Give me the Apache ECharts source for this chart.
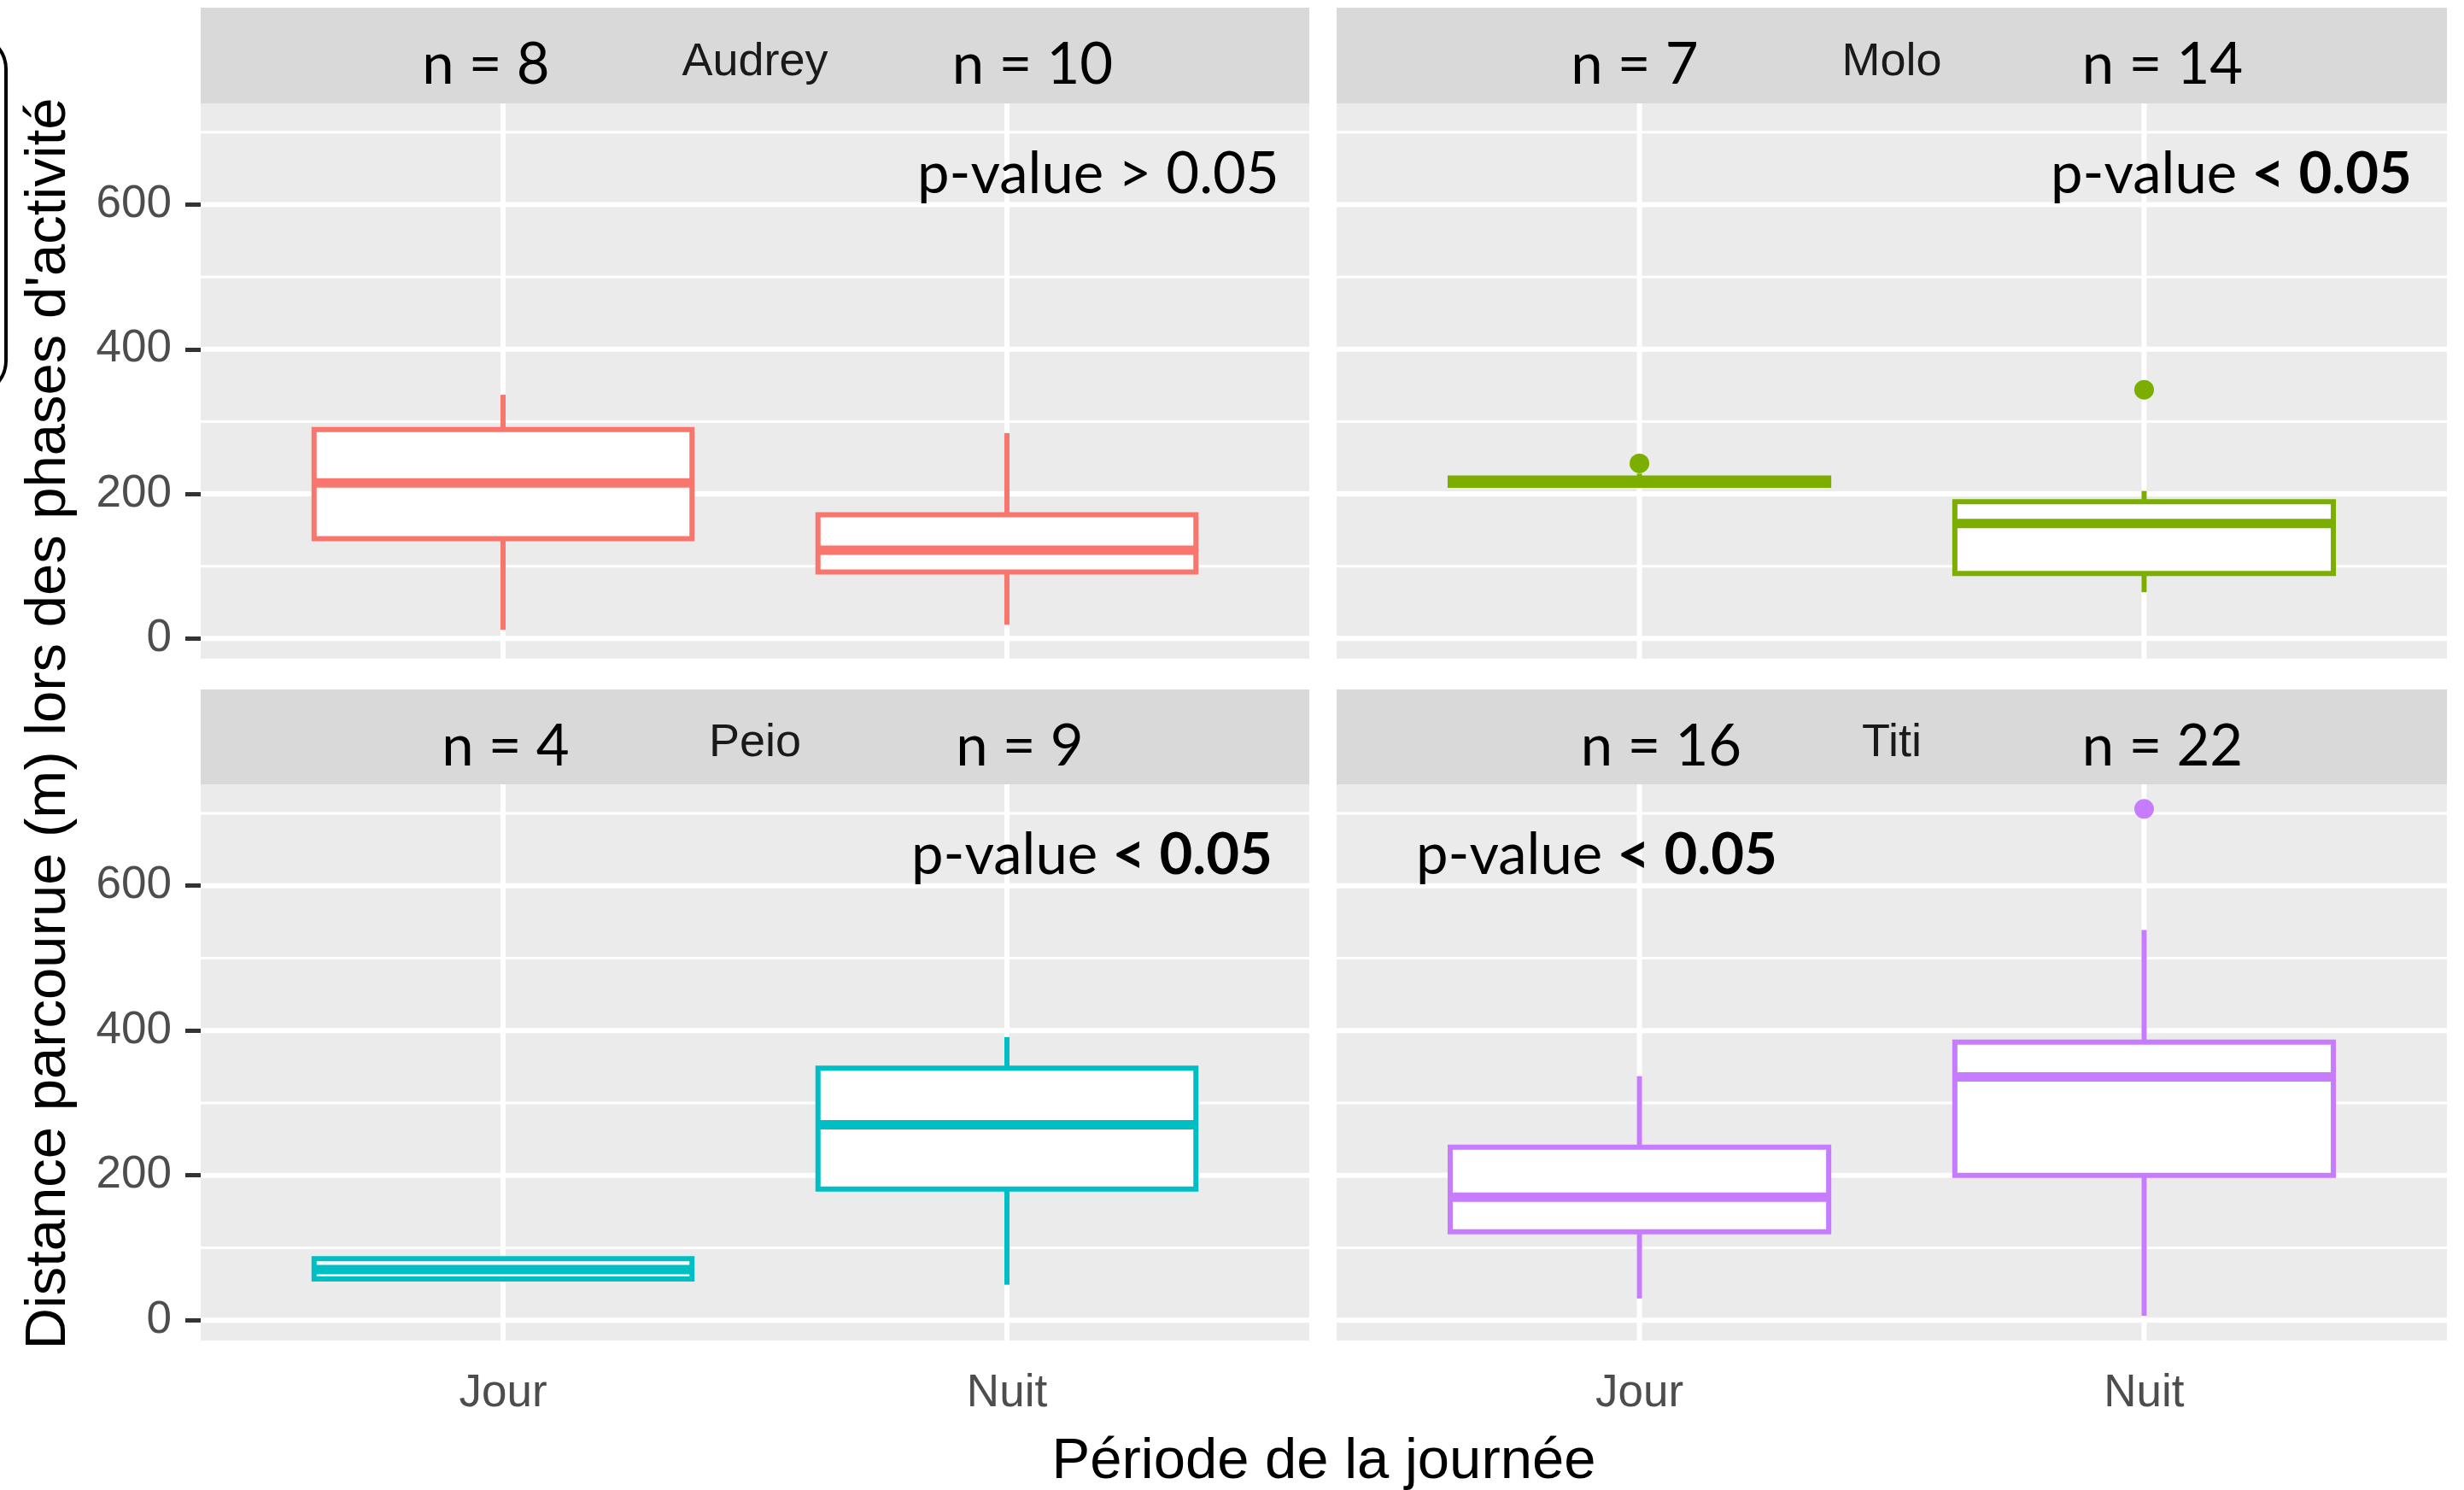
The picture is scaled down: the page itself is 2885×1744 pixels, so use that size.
<!DOCTYPE html>
<html>
<head>
<meta charset="utf-8">
<script src="https://cdn.jsdelivr.net/npm/echarts@6/dist/echarts.min.js"></script>
<style>
  html, body { margin: 0; padding: 0; background: #fff; }
  #chart { width: 2885px; height: 1744px; }
</style>
</head>
<body>
<div id="chart"></div>
<script>
// ─── Données ──────────────────────────────────────────────────────────────────
const periods = ['Jour', 'Nuit']
const animals = ['Audrey', 'Molo', 'Peio', 'Titi']
const colors  = ['#F8766D', '#7CAE00', '#00BFC4', '#C77CFF']

// [min, Q1, médiane, Q3, max] pour Jour puis Nuit
const audreyBox = [[12, 138, 215, 289, 337], [19, 92, 122, 171, 284]]
const moloBox   = [[211, 212, 217, 222, 228], [64, 90, 159, 189, 204]]
const peioBox   = [[57, 57, 70, 85, 85], [49, 181, 270, 348, 391]]
const titiBox   = [[30, 122, 170, 239, 337], [6, 200, 336, 384, 539]]

// valeurs extrêmes : [index période, valeur]
const audreyOut = []
const moloOut   = [[0, 242], [1, 344]]
const peioOut   = []
const titiOut   = [[1, 706]]

const nJour   = [8, 7, 4, 16]
const nNuit   = [10, 14, 9, 22]
const pSign   = ['>', '<', '<', '<']
const pBold   = [false, true, true, true]

const yMajor = [0, 200, 400, 600]
const yMinor = [100, 300, 500, 700]

const boxes    = [audreyBox, moloBox, peioBox, titiBox]
const outliers = [audreyOut, moloOut, peioOut, titiOut]

// ─── Mise en page ─────────────────────────────────────────────────────────────
const cols = [{ left: 235, width: 1298 }, { left: 1565, width: 1300 }]
const rows = [{ strip: 9, top: 121, height: 650 }, { strip: 807, top: 918, height: 651 }]
const nPos = [[569, 1209], [1914, 2532], [592, 1194], [1945, 2532]]
const pPos = [1074, 2401, 1067, 1658]
const AX_FONT = 'Liberation Sans, Arial, sans-serif'
const CAL_FONT = 'Lato, Carlito, Calibri, sans-serif'
const CAL_SIZE = 67

const grids = [], xAxes = [], yAxes = [], series = [], graphics = []

const hLine = (width) => (params, api) => {
  const v  = api.value(0)
  const p1 = api.coord([0.4, v]), p2 = api.coord([2.6, v])
  return { type: 'line', shape: { x1: p1[0], y1: p1[1], x2: p2[0], y2: p2[1] }, style: { stroke: '#fff', lineWidth: width } }
}
const vLine = (width) => (params, api) => {
  const v  = api.value(0)
  const p1 = api.coord([v, -28]), p2 = api.coord([v, 740])
  return { type: 'line', shape: { x1: p1[0], y1: p1[1], x2: p2[0], y2: p2[1] }, style: { stroke: '#fff', lineWidth: width } }
}
const boxItem = (color) => (params, api) => {
  const x  = api.value(0)
  const lo = api.coord([x, api.value(1)])
  const q1 = api.coord([x, api.value(2)])
  const md = api.coord([x, api.value(3)])
  const q3 = api.coord([x, api.value(4)])
  const hi = api.coord([x, api.value(5)])
  const half = api.size([0.375, 0])[0]
  const cx = md[0]
  return {
    type: 'group',
    children: [
      { type: 'line', shape: { x1: cx, y1: hi[1], x2: cx, y2: q3[1] }, style: { stroke: color, lineWidth: 6 } },
      { type: 'line', shape: { x1: cx, y1: q1[1], x2: cx, y2: lo[1] }, style: { stroke: color, lineWidth: 6 } },
      { type: 'rect', shape: { x: cx - half, y: q3[1], width: half * 2, height: q1[1] - q3[1] }, style: { fill: '#fff', stroke: color, lineWidth: 6 } },
      { type: 'line', shape: { x1: cx - half, y1: md[1], x2: cx + half, y2: md[1] }, style: { stroke: color, lineWidth: 11 } },
    ],
  }
}

animals.forEach((name, i) => {
  const c = cols[i % 2], r = rows[Math.floor(i / 2)]
  const showX = r === rows[1], showY = c === cols[0]
  grids.push({ left: c.left, top: r.top, width: c.width, height: r.height, show: true, backgroundColor: '#EBEBEB', borderWidth: 0, outerBoundsMode: 'none', containLabel: false })
  xAxes.push({
    type: 'value', gridIndex: i, min: 0.4, max: 2.6,
    axisLine: { show: false }, splitLine: { show: false },
    axisTick: { show: showX, customValues: [1, 2], length: 18, lineStyle: { color: '#333333', width: 5 } },
    axisLabel: { show: showX, customValues: [1, 2], formatter: v => periods[Math.round(v) - 1], fontSize: 53, fontFamily: AX_FONT, color: '#4D4D4D', margin: 36 },
  })
  yAxes.push({
    type: 'value', gridIndex: i, min: -28, max: 740,
    axisLine: { show: false }, splitLine: { show: false },
    axisTick: { show: showY, customValues: yMajor, length: 18, lineStyle: { color: '#333333', width: 5 } },
    axisLabel: { show: showY, customValues: yMajor, fontSize: 53, fontFamily: AX_FONT, color: '#4D4D4D', margin: 34, padding: [12, 0, 0, 0] },
  })
  series.push(
    { type: 'custom', xAxisIndex: i, yAxisIndex: i, z: 1, silent: true, renderItem: hLine(3), data: yMinor.map(v => [v]) },
    { type: 'custom', xAxisIndex: i, yAxisIndex: i, z: 1, silent: true, renderItem: hLine(6), data: yMajor.map(v => [v]) },
    { type: 'custom', xAxisIndex: i, yAxisIndex: i, z: 1, silent: true, renderItem: vLine(6), data: periods.map((p, k) => [k + 1]) },
    { type: 'custom', xAxisIndex: i, yAxisIndex: i, z: 3, renderItem: boxItem(colors[i]), data: boxes[i].map((b, k) => [k + 1, ...b]) },
    { type: 'scatter', xAxisIndex: i, yAxisIndex: i, z: 4, symbolSize: 23, itemStyle: { color: colors[i], opacity: 1 }, data: outliers[i].map(([k, v]) => [k + 1, v]) },
  )

  // bandeau du facet
  graphics.push(
    { type: 'rect', shape: { x: c.left, y: r.strip, width: c.width, height: r.top - r.strip }, style: { fill: '#D9D9D9' }, z: 50 },
    { type: 'text', x: c.left + c.width / 2, y: (r.strip + r.top) / 2 + 8, z: 60,
      style: { text: name, fontSize: 54, fontFamily: AX_FONT, fill: '#1A1A1A', align: 'center', verticalAlign: 'middle', textAlign: 'center', textVerticalAlign: 'middle' } },
  )
  const nBase = r.strip + 92
  ;[nJour[i], nNuit[i]].forEach((n, k) => {
    graphics.push({ type: 'text', x: nPos[i][k], y: nBase - 0.36 * CAL_SIZE, z: 60,
      style: { text: 'n = ' + n, fontSize: CAL_SIZE, fontFamily: CAL_FONT, fill: '#000', align: 'center', verticalAlign: 'middle', textAlign: 'center', textVerticalAlign: 'middle' } })
  })
  // p-value
  const pText = pBold[i] ? 'p-value {b|' + pSign[i] + ' 0.05}' : 'p-value ' + pSign[i] + ' 0.05'
  graphics.push({ type: 'text', x: pPos[i], y: r.top + 108 - 0.36 * CAL_SIZE, z: 60,
    style: { text: pText, fontSize: CAL_SIZE, fontFamily: CAL_FONT, fill: '#000', align: 'left', verticalAlign: 'middle', textAlign: 'left', textVerticalAlign: 'middle',
      rich: { b: { fontSize: CAL_SIZE, fontFamily: CAL_FONT, fontWeight: 'bold', fill: '#000' } } } })
})

// titres des axes + cadre coupé à gauche
graphics.push(
  { type: 'text', x: 1550, y: 1712, z: 60,
    style: { text: 'Période de la journée', fontSize: 67, fontFamily: AX_FONT, fill: '#000', align: 'center', verticalAlign: 'middle', textAlign: 'center', textVerticalAlign: 'middle' } },
  { type: 'text', x: 58, y: 847, rotation: Math.PI / 2, z: 60,
    style: { text: "Distance parcourue (m) lors des phases d'activité", fontSize: 67, fontFamily: AX_FONT, fill: '#000', align: 'center', verticalAlign: 'middle', textAlign: 'center', textVerticalAlign: 'middle' } },
  { type: 'rect', shape: { x: -100, y: 41, width: 107, height: 421, r: 40 }, style: { fill: 'none', stroke: '#000', lineWidth: 4 }, z: 60 },
)

const chart = echarts.init(document.getElementById('chart'), null, { renderer: 'canvas' })
chart.setOption({
  animation: false,
  backgroundColor: '#fff',
  grid: grids, xAxis: xAxes, yAxis: yAxes, series,
  graphic: { elements: graphics },
})
</script>
</body>
</html>
